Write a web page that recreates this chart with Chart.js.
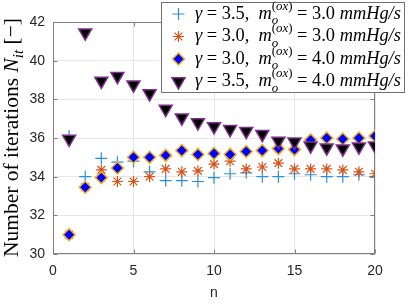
<!DOCTYPE html>
<html>
<head>
<meta charset="utf-8">
<script src="https://cdn.jsdelivr.net/npm/chart.js@4/dist/chart.umd.min.js"></script>
<style>
  html, body { margin: 0; padding: 0; background: #fff; }
  canvas { display: block; }
</style>
</head>
<body>
<canvas id="iterChart" width="415" height="306"></canvas>
<script>
// iteration index n
let iterations = [1, 2, 3, 4, 5, 6, 7, 8, 9, 10, 11, 12, 13, 14, 15, 16, 17, 18, 19, 20];

// N_it for each (gamma, m_o) combination
let g35m30 = [36.1, 34.0, 34.95, 34.75, 34.8, 34.25, 33.8, 33.8, 33.75, 33.95, 34.15, 34.2, 34.0, 34.0, 34.15, 34.1, 34.0, 34.0, 34.1, 34.0];
let g30m30 = [31.0, 33.45, 34.35, 33.75, 33.75, 34.0, 34.4, 34.25, 34.3, 34.65, 34.8, 34.4, 34.5, 34.7, 34.4, 34.4, 34.4, 34.35, 34.25, 34.15];
let g30m40 = [31.0, 33.45, 33.95, 34.45, 35.0, 35.0, 35.1, 35.35, 35.15, 35.2, 35.15, 35.3, 35.35, 35.45, 35.4, 35.9, 36.0, 35.95, 36.0, 36.1];
let g35m40 = [35.95, 41.45, 38.95, 39.2, 38.75, 38.3, 37.5, 37.05, 36.8, 36.6, 36.45, 36.35, 36.2, 35.85, 35.8, 35.6, 35.5, 35.45, 35.55, 35.6];

let gammaLabels = ["3.5", "3.0", "3.0", "3.5"];
let moLabels = ["3.0", "3.0", "4.0", "4.0"];

let xTicks = [0, 5, 10, 15, 20];
let yTicks = [30, 32, 34, 36, 38, 40, 42];

const SERIF = "'Liberation Serif', 'DejaVu Serif', serif";
const SANS = "'Liberation Sans', Arial, sans-serif";

function pts(ys) {
    return iterations.map((n, i) => ({x: n, y: ys[i]}));
}

let styles = [
    {pointStyle: "cross", radius: 6, borderWidth: 1.2, backgroundColor: "#2b8fd6", borderColor: "#2b8fd6", rotation: 0},
    {pointStyle: "star", radius: 5.5, borderWidth: 1.2, backgroundColor: "#D95319", borderColor: "#D95319", rotation: 0},
    {pointStyle: "rectRot", radius: 6, borderWidth: 1.5, backgroundColor: "#0000FF", borderColor: "#EDB120", rotation: 0},
    {pointStyle: "triangle", radius: 7.5, borderWidth: 1.5, backgroundColor: "#000000", borderColor: "#7E2F8E", rotation: 180}
];

let allSeries = [g35m30, g30m30, g30m40, g35m40];

let datasets = allSeries.map((ys, i) => ({
    label: "gamma=" + gammaLabels[i] + ", mo=" + moLabels[i],
    data: pts(ys),
    showLine: false,
    order: 4 - i,
    pointStyle: styles[i].pointStyle,
    pointRadius: styles[i].radius,
    pointRotation: styles[i].rotation,
    pointBorderWidth: styles[i].borderWidth,
    pointBackgroundColor: styles[i].backgroundColor,
    pointBorderColor: styles[i].borderColor
}));

// draws a run of text pieces (italic / sub / sup), returns width
function runText(ctx, items, x, y, size, draw) {
    let cx = x, saveX = x, maxX = x;
    for (const it of items) {
        if (it.back) { maxX = Math.max(maxX, cx); cx = saveX; }
        if (it.mark) saveX = cx;
        let fs = size * (it.s || 1);
        ctx.font = (it.it ? "italic " : "") + fs + "px " + SERIF;
        if (draw) ctx.fillText(it.t, cx, y + (it.dy || 0) * size);
        cx += ctx.measureText(it.t).width;
        if (it.end) cx = Math.max(cx, maxX);
    }
    return cx - x;
}

function legendItems(i) {
    return [
        {t: "γ", it: 1},
        {t: " = " + gammaLabels[i] + ",  "},
        {t: "m", it: 1},
        {t: "o", it: 1, s: 0.7, dy: 0.3, mark: 1},
        {t: "(", s: 0.7, dy: -0.48, back: 1},
        {t: "ox", it: 1, s: 0.7, dy: -0.48},
        {t: ")", s: 0.7, dy: -0.48, end: 1},
        {t: " = " + moLabels[i] + " "},
        {t: "mmHg/s", it: 1}
    ];
}

let yTitleItems = [
    {t: "Number of iterations "},
    {t: "N", it: 1},
    {t: "it", it: 1, s: 0.7, dy: 0.25},
    {t: " [−]"}
];

const frame = {
    id: "frame",
    beforeDatasetsDraw(chart) {
        let {ctx, chartArea: a, scales} = chart;
        let L = Math.round(a.left) + 0.5, R = Math.round(a.right) - 0.5;
        let T = Math.round(a.top) + 0.5, B = Math.round(a.bottom) - 0.5;
        ctx.save();
        ctx.strokeStyle = "#808080";
        ctx.lineWidth = 1;
        ctx.strokeRect(L, T, R - L, B - T);
        ctx.beginPath();
        xTicks.forEach(v => {
            let px = Math.round(scales.x.getPixelForValue(v)) + 0.5;
            ctx.moveTo(px, B); ctx.lineTo(px, B - 4);
            ctx.moveTo(px, T); ctx.lineTo(px, T + 4);
        });
        yTicks.forEach(v => {
            let py = Math.round(scales.y.getPixelForValue(v)) + 0.5;
            ctx.moveTo(L, py); ctx.lineTo(L + 4, py);
            ctx.moveTo(R, py); ctx.lineTo(R - 4, py);
        });
        ctx.stroke();
        ctx.restore();
    },
    afterDraw(chart) {
        let ctx = chart.ctx;
        ctx.save();
        ctx.fillStyle = "#000";
        ctx.textAlign = "left";
        ctx.textBaseline = "alphabetic";

        // y axis title
        let w0 = runText(ctx, yTitleItems, 0, 0, 17, false);
        let ys = 17 * 239 / w0;
        let w = runText(ctx, yTitleItems, 0, 0, ys, false);
        ctx.translate(17.5, 137.5);
        ctx.rotate(-Math.PI / 2);
        runText(ctx, yTitleItems, -w / 2, 0, ys, true);
        ctx.restore();

        // legend box
        ctx.save();
        ctx.fillStyle = "#fff";
        ctx.strokeStyle = "#707070";
        ctx.lineWidth = 1;
        ctx.fillRect(161, 2, 243, 91);
        ctx.strokeRect(161.5, 2.5, 243, 90);
        let rowY = [14, 36.5, 59, 81.5];
        let lw0 = runText(ctx, legendItems(0), 0, 0, 14, false);
        let ls = 14 * 206 / lw0;
        for (let i = 0; i < 4; i++) {
            let st = styles[i];
            ctx.fillStyle = st.backgroundColor;
            ctx.strokeStyle = st.borderColor;
            ctx.lineWidth = st.borderWidth;
            Chart.helpers.drawPoint(ctx, {
                pointStyle: st.pointStyle, rotation: st.rotation,
                radius: st.radius, borderWidth: st.borderWidth
            }, 178.5, rowY[i]);
            ctx.fillStyle = "#000";
            runText(ctx, legendItems(i), 195, rowY[i] + 4.5, ls, true);
        }
        ctx.restore();
    }
};

new Chart(document.getElementById("iterChart"), {
    type: "scatter",
    data: {datasets: datasets},
    plugins: [frame],
    options: {
        responsive: false,
        animation: false,
        devicePixelRatio: 1,
        layout: {padding: {left: 0, top: 22, right: 40, bottom: 0}},
        plugins: {
            legend: {display: false},
            tooltip: {enabled: false}
        },
        scales: {
            x: {
                type: "linear",
                min: 0, max: 20,
                afterBuildTicks: s => { s.ticks = xTicks.map(v => ({value: v})); },
                afterFit: s => { s.height = 52; },
                grid: {color: "#e6e6e6", drawTicks: false},
                border: {display: false},
                ticks: {color: "#262626", padding: 9, font: {family: SANS, size: 14}},
                title: {display: true, text: "n", color: "#262626", padding: {top: 4}, font: {family: SANS, size: 14}}
            },
            y: {
                type: "linear",
                min: 30, max: 42,
                afterBuildTicks: s => { s.ticks = yTicks.map(v => ({value: v})); },
                afterFit: s => { s.width = 53; },
                grid: {color: "#e6e6e6", drawTicks: false},
                border: {display: false},
                ticks: {color: "#262626", padding: 8, font: {family: SANS, size: 14}}
            }
        }
    }
});
</script>
</body>
</html>
